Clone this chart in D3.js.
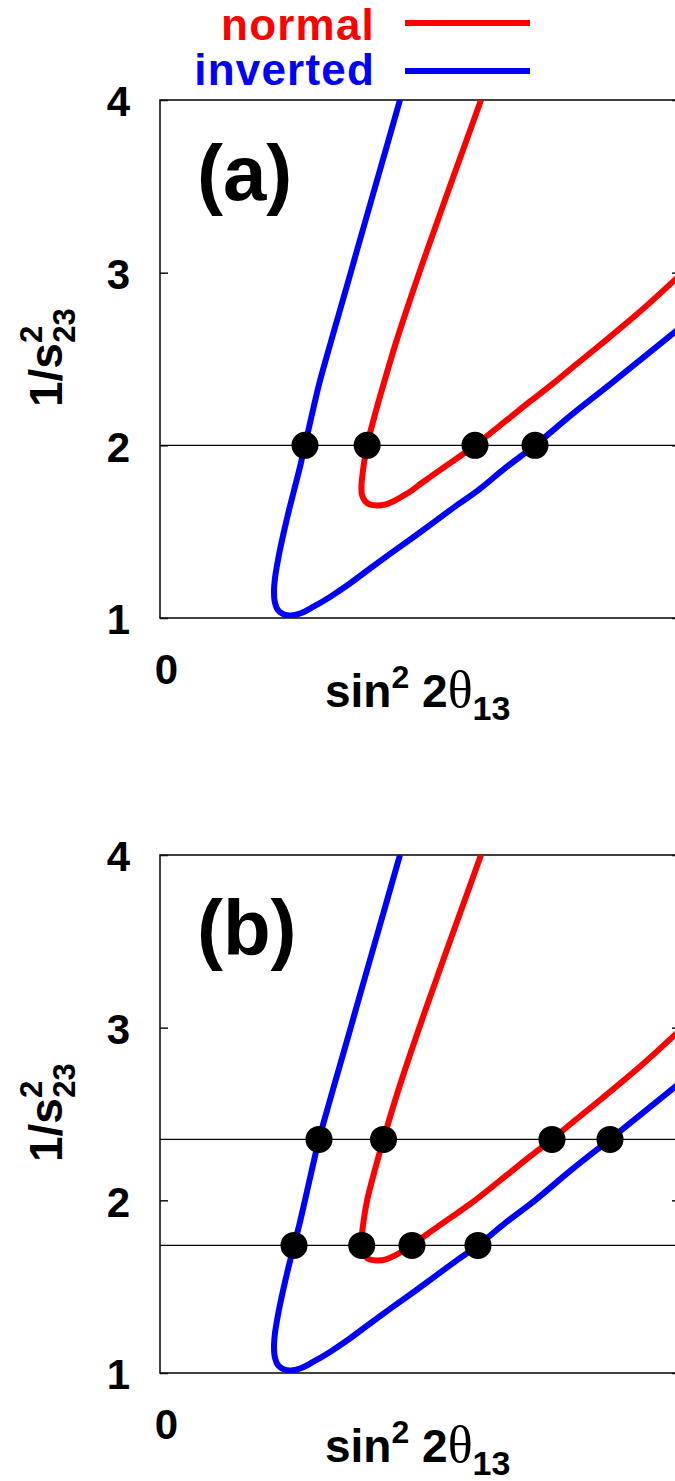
<!DOCTYPE html>
<html>
<head>
<meta charset="utf-8">
<script src="https://d3js.org/d3.v7.min.js"></script>
<style>
  html, body { margin: 0; padding: 0; background: #fff; }
  svg { display: block; }
  text { font-family: "Liberation Sans", Arial, sans-serif; font-weight: bold; }
</style>
</head>
<body>
<svg id="chart" width="675" height="1481"></svg>
<script>
// Degeneracy curves in the (sin^2 2θ13, 1/s^2_23) plane, traced from the top
// of the steep branch, round the turning point, and out along the lower branch.
const invertedX = [0.04615, 0.04340, 0.04065, 0.03790, 0.03671, 0.03462, 0.03269, 0.03058,
                   0.02933, 0.02788, 0.02692, 0.02577, 0.02481, 0.02404, 0.02327, 0.02269,
                   0.02212, 0.02192, 0.02212, 0.02269, 0.02385, 0.02519, 0.02692, 0.02942,
                   0.03269, 0.03596, 0.04000, 0.04423, 0.04865, 0.05327, 0.05712, 0.06115,
                   0.06654, 0.07212, 0.07923, 0.08654, 0.09327, 0.10000];
const invertedY = [4.000, 3.710, 3.421, 3.131, 3.004, 2.784, 2.581, 2.353,
                   2.193, 2.000, 1.875, 1.739, 1.625, 1.527, 1.423, 1.336,
                   1.232, 1.151, 1.087, 1.046, 1.020, 1.014, 1.026, 1.064,
                   1.122, 1.188, 1.278, 1.371, 1.466, 1.568, 1.654, 1.739,
                   1.872, 2.000, 2.179, 2.353, 2.517, 2.680];

const normalX = [0.06173, 0.05827, 0.05481, 0.05139, 0.04991, 0.04742, 0.04523, 0.04298,
                 0.04147, 0.03983, 0.03913, 0.03875, 0.03885, 0.03942, 0.04038, 0.04173,
                 0.04327, 0.04500, 0.04673, 0.04846, 0.05019, 0.05212, 0.05442, 0.05692,
                 0.05865, 0.06058, 0.06673, 0.07115, 0.07538, 0.08000, 0.08462, 0.09231,
                 0.10000];
const normalY = [4.000, 3.710, 3.421, 3.131, 3.004, 2.784, 2.581, 2.353,
                 2.193, 2.000, 1.875, 1.770, 1.712, 1.678, 1.657, 1.652,
                 1.657, 1.678, 1.707, 1.739, 1.779, 1.820, 1.869, 1.921,
                 1.958, 2.000, 2.147, 2.254, 2.353, 2.468, 2.581, 2.775,
                 2.986];

// Horizontal levels of 1/s^2_23 and the crossing points marked on them
const levelsA = [2.0];
const dotsAx = [0.02788, 0.03983, 0.06058, 0.07212];
const dotsAy = [2.0, 2.0, 2.0, 2.0];

const levelsB = [2.353, 1.739];
const dotsBx = [0.03058, 0.04298, 0.07538, 0.08654, 0.02577, 0.03880, 0.04846, 0.06115];
const dotsBy = [2.353, 2.353, 2.353, 2.353, 1.739, 1.739, 1.739, 1.739];

const yTicks = [1, 2, 3, 4];
const xTickValues = [0];
const xTickLabels = ["0"];
const seriesNames = ["normal", "inverted"];
const seriesColors = ["#ff0000", "#0000ff"];
const panelLabels = ["(a)", "(b)"];

const svg = d3.select("#chart");

const plotLeft = 160, plotRight = 680, plotH = 518;
const x = d3.scaleLinear().domain([0, 0.1]).range([plotLeft, plotRight]);
const y = d3.scaleLinear().domain([1, 4]).range([plotH, 0]);

// Legend
seriesNames.forEach((name, i) => {
  const ly = [23, 71][i];
  svg.append("text")
    .attr("x", 375).attr("y", [40, 85][i])
    .attr("text-anchor", "end")
    .attr("font-size", 44)
    .attr("letter-spacing", 1.2)
    .attr("fill", seriesColors[i])
    .text(name);
  svg.append("line")
    .attr("x1", 405).attr("x2", 530)
    .attr("y1", ly).attr("y2", ly)
    .attr("stroke", seriesColors[i])
    .attr("stroke-width", 6);
});

function drawPanel(top, idx, levels, dx, dy) {
  const g = svg.append("g").attr("transform", `translate(0,${top})`);

  const clipId = "clip" + idx;
  g.append("clipPath").attr("id", clipId)
    .append("rect").attr("x", plotLeft).attr("y", 0)
    .attr("width", plotRight - plotLeft).attr("height", plotH);

  // frame
  g.append("rect")
    .attr("x", plotLeft).attr("y", 0)
    .attr("width", plotRight - plotLeft).attr("height", plotH)
    .attr("fill", "none").attr("stroke", "#111").attr("stroke-width", 1.6);

  // y axes, ticks pointing inward
  const left = g.append("g").attr("transform", `translate(${plotLeft},0)`)
    .call(d3.axisLeft(y).tickValues(yTicks).tickFormat(d3.format("d"))
      .tickSizeInner(-8).tickSizeOuter(0).tickPadding(30));
  left.select(".domain").remove();
  left.selectAll(".tick line").attr("stroke", "#111").attr("stroke-width", 1.5);
  left.selectAll(".tick text")
    .attr("font-size", 42).attr("font-family", "Liberation Sans, Arial, sans-serif")
    .attr("font-weight", "bold").attr("fill", "#000").attr("dy", "0.38em");

  const right = g.append("g").attr("transform", `translate(${plotRight},0)`)
    .call(d3.axisRight(y).tickValues(yTicks).tickFormat("")
      .tickSizeInner(-8).tickSizeOuter(0));
  right.select(".domain").remove();
  right.selectAll(".tick line").attr("stroke", "#111").attr("stroke-width", 1.5);

  // x axis: only the origin is labelled
  const bottom = g.append("g").attr("transform", `translate(0,${plotH})`)
    .call(d3.axisBottom(x).tickValues(xTickValues)
      .tickFormat((d, i) => xTickLabels[i])
      .tickSizeInner(0).tickSizeOuter(0).tickPadding(36));
  bottom.select(".domain").remove();
  bottom.selectAll(".tick text")
    .attr("font-size", 42).attr("font-family", "Liberation Sans, Arial, sans-serif")
    .attr("font-weight", "bold").attr("fill", "#000")
    .attr("dx", 6).attr("dy", "0.71em");

  // horizontal reference levels
  g.selectAll(".level").data(levels).enter().append("line")
    .attr("x1", plotLeft).attr("x2", plotRight)
    .attr("y1", d => y(d)).attr("y2", d => y(d))
    .attr("stroke", "#000").attr("stroke-width", 1.2);

  // curves
  const line = d3.line().x(d => x(d[0])).y(d => y(d[1])).curve(d3.curveCatmullRom.alpha(0.5));
  const curves = [d3.zip(normalX, normalY), d3.zip(invertedX, invertedY)];
  const cg = g.append("g").attr("clip-path", `url(#${clipId})`);
  curves.forEach((pts, i) => {
    cg.append("path").attr("d", line(pts))
      .attr("fill", "none").attr("stroke", seriesColors[i])
      .attr("stroke-width", 6).attr("stroke-linejoin", "round");
  });

  // crossing points
  g.selectAll(".dot").data(d3.zip(dx, dy)).enter().append("circle")
    .attr("cx", d => x(d[0])).attr("cy", d => y(d[1])).attr("r", 13.5)
    .attr("fill", "#000");

  // panel tag
  g.append("text").attr("x", 197).attr("y", 100)
    .attr("font-size", 78).attr("fill", "#000").text(panelLabels[idx]);

  // x label: sin^2 2θ13
  const xl = g.append("text").attr("x", 325).attr("y", plotH + 89)
    .attr("font-size", 46).attr("fill", "#000");
  xl.append("tspan").text("sin");
  xl.append("tspan").attr("font-size", 32).attr("dy", -19).text("2");
  xl.append("tspan").attr("dy", 19).text(" 2");
  xl.append("tspan").attr("font-family", "Liberation Serif, serif").attr("font-weight", "normal")
    .attr("font-size", 52).text("θ");
  xl.append("tspan").attr("font-size", 34).attr("dy", 13).text("13");

  // y label: 1/s^2_23, rotated
  const yl = g.append("text")
    .attr("transform", `translate(62,${307}) rotate(-90)`)
    .attr("font-size", 46).attr("fill", "#000");
  yl.append("tspan").text("1/s");
  yl.append("tspan").attr("font-size", 31).attr("dy", -20).text("2");
  yl.append("tspan").attr("font-size", 31).attr("dx", -17).attr("dy", 33).text("23");
}

drawPanel(100, 0, levelsA, dotsAx, dotsAy);
drawPanel(855, 1, levelsB, dotsBx, dotsBy);
</script>
</body>
</html>
